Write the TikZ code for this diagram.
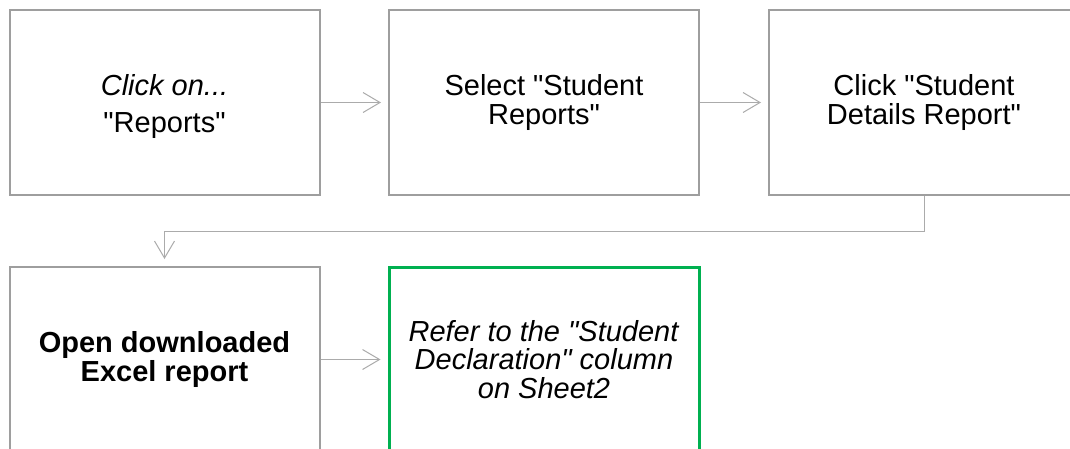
\documentclass[tikz,border=0pt]{standalone}
\usepackage{fontspec}
\setmainfont{Liberation Sans}[Ligatures=TeXOff]
\usetikzlibrary{arrows.meta}
\definecolor{boxgray}{HTML}{9E9E9E}
\definecolor{conngray}{HTML}{ABABAB}
\definecolor{boxgreen}{HTML}{00B050}
\begin{document}
\begin{tikzpicture}[x=1pt,y=-1pt,
  txt/.style={align=center, inner sep=0pt, font=\fontsize{29}{28.5}\selectfont},
  box/.style={txt, draw=boxgray, line width=2pt, minimum width=310pt, minimum height=185pt},
  greenbox/.style={box, draw=boxgreen, line width=3pt},
  conn/.style={draw=conngray, line width=1pt, shorten >=7pt,
    -{Straight Barb[length=17pt,width=20pt,line width=1pt]}}]
\useasboundingbox[fill=white] (0,0) rectangle (1070,448);
\node[box, label={[txt, yshift=-4pt]center:{\textit{Click on...}\\[8pt]"Reports"}}] (b1) at (164.5,102.5) {};
\node[box] (b2) at (544,102.5) {Select "Student\\Reports"};
\node[box] (b3) at (924,102.5) {Click "Student\\Details Report"};
\node[box] (b4) at (164.5,359.5) {\textbf{Open downloaded}\\\textbf{Excel report}};
\node[greenbox] (b5) at (544,359.5) {\textit{Refer to the "Student}\\\textit{Declaration" column}\\\textit{on Sheet2}};
\coordinate (bend) at (924,231);
\draw[conn] (b1) -- (b2);
\draw[conn] (b2) -- (b3);
\draw[conn] (b3.south) -- (bend) -| (b4.north);
\draw[conn] (b4) -- (b5);
\end{tikzpicture}
\end{document}
